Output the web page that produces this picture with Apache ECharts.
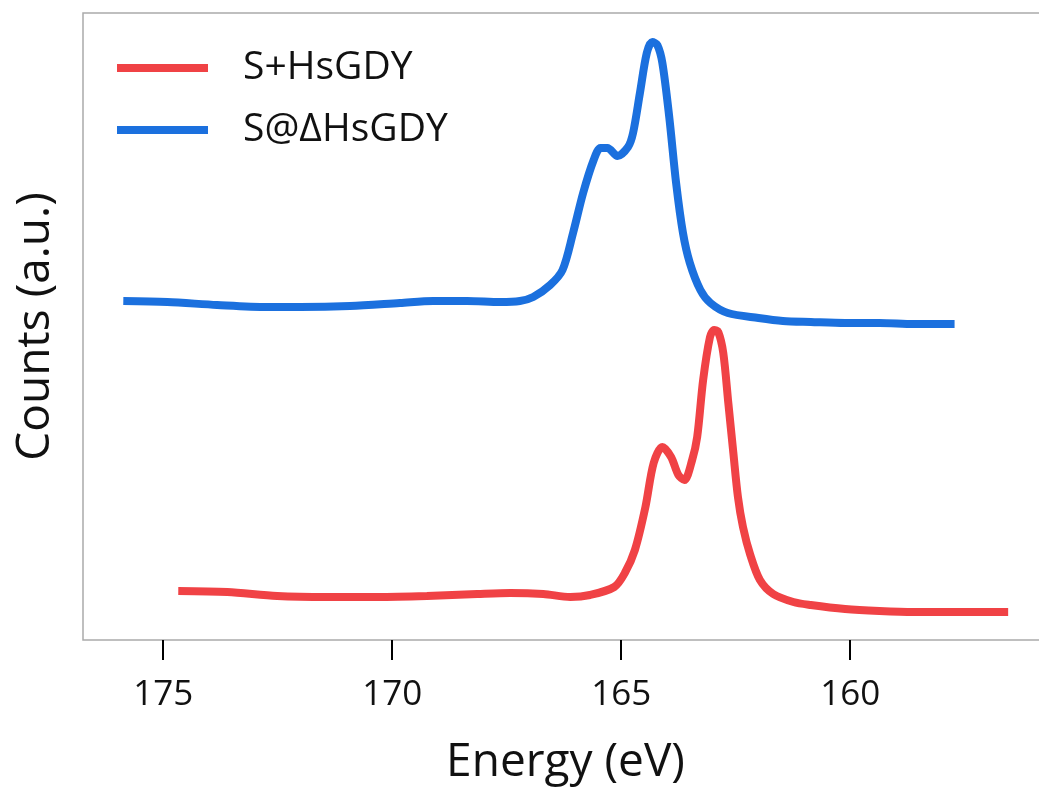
<!DOCTYPE html>
<html>
<head>
<meta charset="utf-8">
<script src="https://cdn.jsdelivr.net/npm/echarts@6/dist/echarts.min.js"></script>
<style>html,body{margin:0;padding:0;background:#fff}#chart{width:1039px;height:792px}</style>
</head>
<body>
<div id="chart"></div>
<script>
// Energy (eV) and counts (a.u.)
const seriesNames = ['S+HsGDY', 'S@\u0394HsGDY'];
const tickValues = [175, 170, 165, 160];

const redEnergy = [174.67, 173.60, 172.51, 171.42, 170.33, 169.24, 168.14, 167.42, 166.70, 166.11, 165.68, 165.15, 164.92, 164.70, 164.47, 164.29, 164.10, 163.91, 163.75, 163.62, 163.45, 163.34, 163.21, 163.06, 162.97, 162.88, 162.77, 162.66, 162.55, 162.45, 162.34, 162.18, 161.97, 161.68, 161.24, 160.86, 160.11, 159.36, 158.61, 157.86, 156.55];
const redCounts = [49, 48, 44, 43, 43, 44, 46, 47, 46, 43, 45, 53, 67, 90, 133, 177, 193, 183, 165, 160, 180, 203, 260, 303, 310, 308, 287, 237, 187, 143, 113, 85, 60, 46, 38, 35, 31, 29, 28, 28, 28];

const blueEnergy = [175.87, 174.91, 173.82, 172.73, 172.01, 170.92, 169.83, 169.10, 168.36, 167.64, 167.21, 166.92, 166.55, 166.28, 166.05, 165.83, 165.60, 165.45, 165.30, 165.08, 164.85, 164.74, 164.59, 164.44, 164.32, 164.21, 164.10, 163.95, 163.80, 163.65, 163.50, 163.27, 163.05, 162.67, 162.00, 161.47, 160.86, 160.11, 159.36, 158.61, 157.72];
const blueCounts = [339, 338, 335, 333, 333, 334, 337, 339, 339, 338, 339, 343, 355, 370, 407, 447, 480, 492, 492, 484, 493, 507, 547, 587, 598, 595, 577, 523, 457, 407, 377, 350, 337, 327, 322, 319, 318, 317, 317, 316, 316];

const colors = ['#f04245', '#1b70de'];
const FONT = 'Open Sans';

function pairs(xs, ys) { return xs.map((x, i) => [x, ys[i]]); }

const chart = echarts.init(document.getElementById('chart'));
chart.setOption({
  animation: false,
  textStyle: { fontFamily: FONT },
  grid: { left: 83, top: 13, width: 965, height: 627, show: true, borderColor: '#aaaaaa', borderWidth: 1.5,
          containLabel: false, outerBoundsMode: 'none' },
  legend: {
    left: 112, top: 42, orient: 'vertical', itemGap: 20,
    icon: 'rect', itemWidth: 91, itemHeight: 8,
    textStyle: { fontFamily: FONT, fontSize: 39, color: '#111', padding: [0, 0, 0, 30], lineHeight: 42 },
    data: seriesNames
  },
  xAxis: {
    type: 'value', inverse: true, min: 176.75 - 965 / 45.8, max: 176.75,
    name: 'Energy (eV)', nameLocation: 'middle', nameGap: 100,
    nameTextStyle: { fontFamily: FONT, fontSize: 46, color: '#111' },
    axisLine: { show: false },
    axisTick: { show: true, length: 20, inside: false, lineStyle: { color: '#000', width: 2 }, customValues: tickValues },
    axisLabel: { show: true, fontFamily: FONT, fontSize: 35, color: '#111', margin: 38, customValues: tickValues },
    splitLine: { show: false }
  },
  yAxis: {
    type: 'value', min: 0, max: 627,
    name: 'Counts (a.u.)', nameLocation: 'middle', nameGap: 24,
    nameTextStyle: { fontFamily: FONT, fontSize: 46, color: '#111' },
    axisLine: { show: false }, axisTick: { show: false }, axisLabel: { show: false }, splitLine: { show: false }
  },
  series: [
    { name: seriesNames[0], type: 'line', data: pairs(redEnergy, redCounts), showSymbol: false, smooth: 0.3,
      lineStyle: { color: colors[0], width: 8 }, itemStyle: { color: colors[0] } },
    { name: seriesNames[1], type: 'line', data: pairs(blueEnergy, blueCounts), showSymbol: false, smooth: 0.3,
      lineStyle: { color: colors[1], width: 8 }, itemStyle: { color: colors[1] } }
  ]
});
</script>
</body>
</html>
